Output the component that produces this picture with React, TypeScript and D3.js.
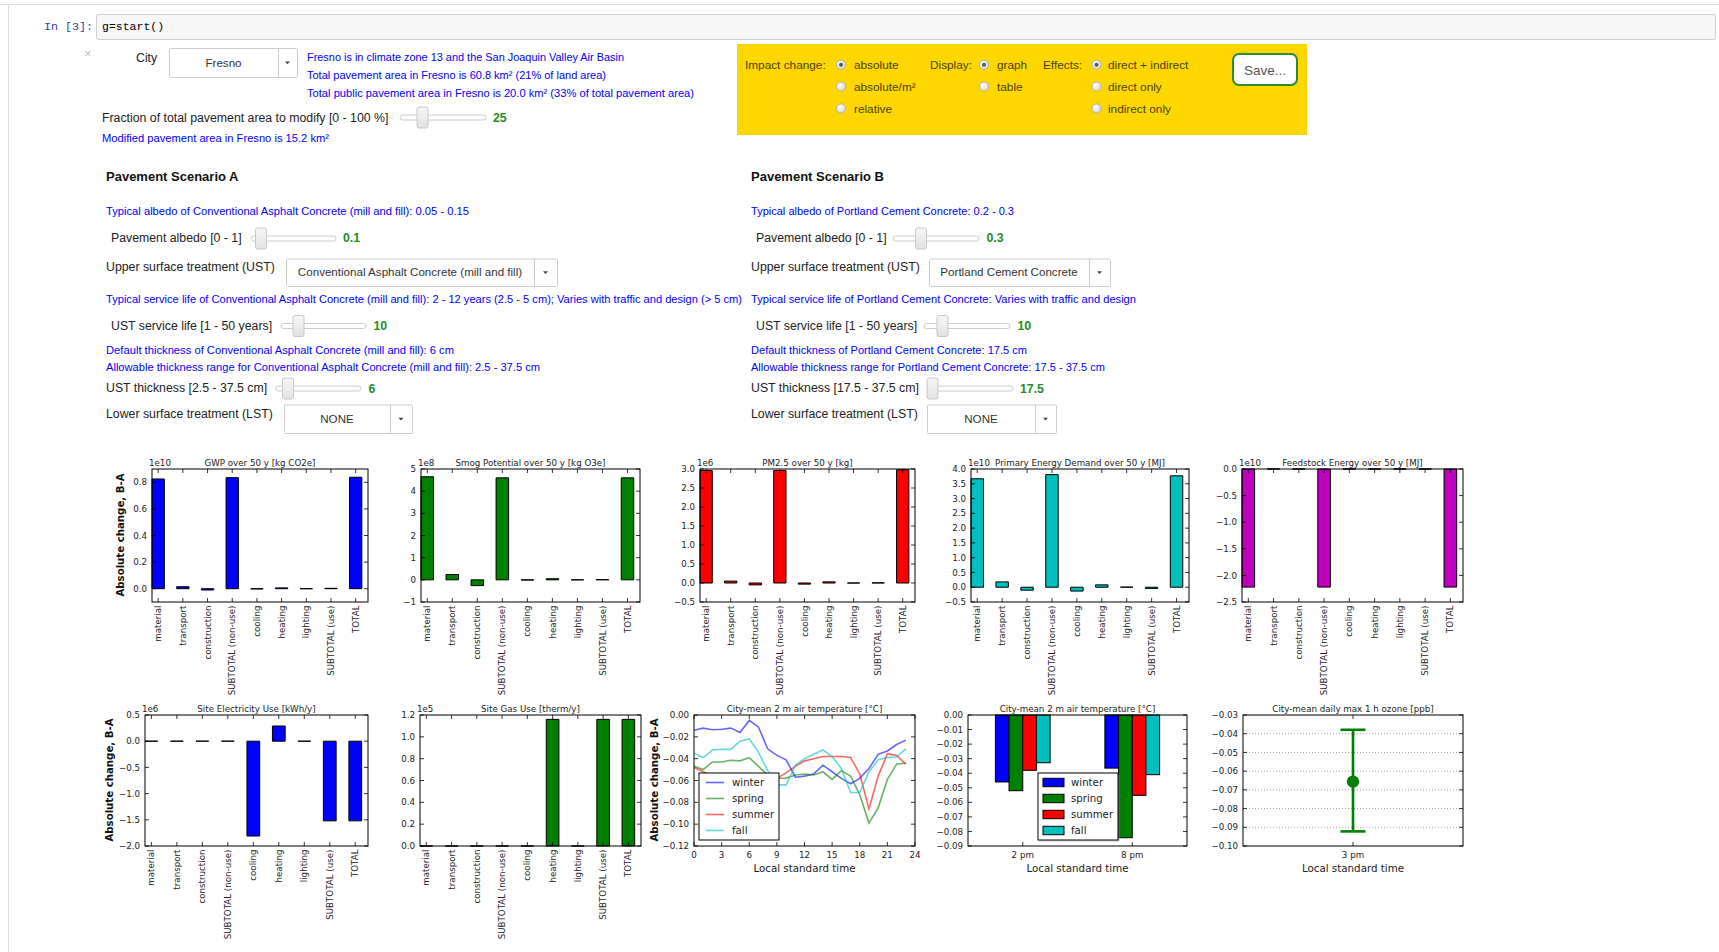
import React from 'react';
import * as d3 from 'd3';

// ---------------- data ----------------
const categories = ['material', 'transport', 'construction', 'SUBTOTAL (non-use)', 'cooling', 'heating', 'lighting', 'SUBTOTAL (use)', 'TOTAL'];

const gwpValues = [0.825, 0.015, -0.01, 0.835, -0.002, 0.006, 0.0, 0.003, 0.838];
const smogValues = [4.65, 0.24, -0.26, 4.6, -0.01, 0.05, 0.0, 0.01, 4.6];
const pm25Values = [2.96, 0.05, -0.05, 2.96, -0.03, 0.03, 0.0, 0.005, 2.98];
const pedValues = [3.67, 0.18, -0.1, 3.81, -0.13, 0.08, 0.005, -0.04, 3.77];
const feedstockValues = [-2.22, 0, 0, -2.22, 0, 0, 0, 0, -2.22];
const elecValues = [0, 0, 0, 0, -1.81, 0.29, 0, -1.52, -1.52];
const gasValues = [0, 0, 0, 0, 0, 1.16, 0, 1.16, 1.16];

const gwpTicks = [0, 0.2, 0.4, 0.6, 0.8];
const smogTicks = [-1, 0, 1, 2, 3, 4, 5];
const pm25Ticks = [-0.5, 0, 0.5, 1, 1.5, 2, 2.5, 3];
const pedTicks = [-0.5, 0, 0.5, 1, 1.5, 2, 2.5, 3, 3.5, 4];
const feedTicks = [-2.5, -2, -1.5, -1, -0.5, 0];
const elecTicks = [-2, -1.5, -1, -0.5, 0, 0.5];
const gasTicks = [0, 0.2, 0.4, 0.6, 0.8, 1.0, 1.2];

const hours = [0, 1, 2, 3, 4, 5, 6, 7, 8, 9, 10, 11, 12, 13, 14, 15, 16, 17, 18, 19, 20, 21, 22, 23];
const winterTemp = [-0.014, -0.012, -0.0135, -0.013, -0.012, -0.016, -0.005, -0.011, -0.031, -0.037, -0.041, -0.057, -0.056, -0.054, -0.046, -0.052, -0.058, -0.063, -0.058, -0.049, -0.036, -0.033, -0.027, -0.023];
const springTemp = [-0.047, -0.050, -0.043, -0.043, -0.0415, -0.042, -0.039, -0.047, -0.055, -0.058, -0.058, -0.055, -0.054, -0.055, -0.052, -0.059, -0.051, -0.056, -0.073, -0.099, -0.085, -0.059, -0.045, -0.044];
const summerTemp = [-0.048, -0.052, -0.056, -0.058, -0.059, -0.060, -0.061, -0.062, -0.062, -0.058, -0.053, -0.047, -0.042, -0.040, -0.038, -0.038, -0.038, -0.039, -0.054, -0.086, -0.056, -0.0355, -0.037, -0.045];
const fallTemp = [-0.035, -0.039, -0.032, -0.0315, -0.0315, -0.024, -0.022, -0.034, -0.051, -0.064, -0.064, -0.046, -0.040, -0.036, -0.032, -0.038, -0.049, -0.071, -0.071, -0.052, -0.041, -0.039, -0.0385, -0.031];
const hourTicks = [0, 3, 6, 9, 12, 15, 18, 21, 24];
const tempTicks = [-0.12, -0.1, -0.08, -0.06, -0.04, -0.02, 0];

const seasons = ['winter', 'spring', 'summer', 'fall'];
const peakTimes = ['2 pm', '8 pm'];
const winterPeak = [-0.046, -0.0365];
const springPeak = [-0.052, -0.0843];
const summerPeak = [-0.038, -0.0552];
const fallPeak = [-0.0328, -0.041];
const peakTicks = [-0.09, -0.08, -0.07, -0.06, -0.05, -0.04, -0.03, -0.02, -0.01, 0];

const ozoneTimes = ['3 pm'];
const ozoneMean = [-0.0656];
const ozoneLow = [-0.0922];
const ozoneHigh = [-0.0379];
const ozoneTicks = [-0.1, -0.09, -0.08, -0.07, -0.06, -0.05, -0.04, -0.03];

// ---------------- styles ----------------
const CF = "'DejaVu Sans', 'Bitstream Vera Sans', sans-serif";
const WF = "'Liberation Sans', Arial, Helvetica, sans-serif";
const MF = "'Liberation Mono', 'DejaVu Sans Mono', monospace";
const FS = 8.7;
const BLUE = '#0000ff';
const GREEN_VAL = '#2a8a2a';
const seasonColors = ['#0000ff', '#008000', '#ff0000', '#00bfbf'];

const f1 = d3.format('.1f');
const f0 = d3.format('d');
const f2 = d3.format('.2f');

// ---------------- chart helpers ----------------
type Box = { x0: number; x1: number; y0: number; y1: number };

function YTicks({ b, scale, ticks, fmt }: { b: Box; scale: any; ticks: number[]; fmt: (v: number) => string }) {
  return (
    <g>
      {ticks.map((t, i) => {
        const y = scale(t);
        return (
          <g key={i}>
            <line x1={b.x0} x2={b.x0 + 4} y1={y} y2={y} stroke="#000" strokeWidth={0.8} />
            <line x1={b.x1 - 4} x2={b.x1} y1={y} y2={y} stroke="#000" strokeWidth={0.8} />
            <text x={b.x0 - 5} y={y + 3.1} textAnchor="end" fontFamily={CF} fontSize={FS} fill="#222">{fmt(t)}</text>
          </g>
        );
      })}
    </g>
  );
}

function XTickMarks({ b, xs }: { b: Box; xs: number[] }) {
  return (
    <g>
      {xs.map((x, i) => (
        <g key={i}>
          <line x1={x} x2={x} y1={b.y1} y2={b.y1 - 4} stroke="#000" strokeWidth={0.8} />
          <line x1={x} x2={x} y1={b.y0} y2={b.y0 + 4} stroke="#000" strokeWidth={0.8} />
        </g>
      ))}
    </g>
  );
}

function Frame({ b }: { b: Box }) {
  return <rect x={b.x0} y={b.y0} width={b.x1 - b.x0} height={b.y1 - b.y0} fill="none" stroke="#000" strokeWidth={1} />;
}

function Title({ b, title, exp }: { b: Box; title: string; exp?: string }) {
  return (
    <g>
      <text x={(b.x0 + b.x1) / 2} y={b.y0 - 3.5} textAnchor="middle" fontFamily={CF} fontSize={FS} fill="#222">{title}</text>
      {exp && <text x={b.x0 - 3} y={b.y0 - 3} fontFamily={CF} fontSize={FS} fill="#222">{exp}</text>}
    </g>
  );
}

function YLabel({ x, y }: { x: number; y: number }) {
  return (
    <text transform={`translate(${x},${y}) rotate(-90)`} textAnchor="middle" fontFamily={CF} fontSize={10.2} fontWeight="bold" fill="#111">
      Absolute change, B-A
    </text>
  );
}

function BarPanel({ b, title, exp, values, color, domain, ticks, fmt }: { b: Box; title: string; exp: string; values: number[]; color: string; domain: [number, number]; ticks: number[]; fmt: (v: number) => string }) {
  // pandas-style bar positions: bar i spans [i-0.25, i+0.25], xlim [-0.25, n-0.5]
  const n = categories.length;
  const xs = d3.scaleLinear().domain([-0.25, n - 0.5]).range([b.x0, b.x1]);
  const ys = d3.scaleLinear().domain(domain).range([b.y1, b.y0]);
  return (
    <g>
      {values.map((v, i) => {
        const xl = xs(i - 0.25);
        const xr = xs(i + 0.25);
        const yt = ys(Math.max(v, 0));
        const yb = ys(Math.min(v, 0));
        const d = `M${xl},${yb}L${xl},${yt}L${xr},${yt}L${xr},${yb}Z`;
        return <path key={i} d={d} fill={color} stroke="#000" strokeWidth={1} />;
      })}
      <Frame b={b} />
      <YTicks b={b} scale={ys} ticks={ticks} fmt={fmt} />
      <XTickMarks b={b} xs={categories.map((_, i) => xs(i))} />
      {categories.map((c, i) => (
        <text key={i} transform={`translate(${xs(i) + 3.1},${b.y1 + 3.5}) rotate(-90)`} textAnchor="end" fontFamily={CF} fontSize={FS} fill="#222">{c}</text>
      ))}
      <Title b={b} title={title} exp={exp} />
    </g>
  );
}

function TempLinePanel({ b }: { b: Box }) {
  const xs = d3.scaleLinear().domain([0, 24]).range([b.x0, b.x1]);
  const ys = d3.scaleLinear().domain([-0.12, 0]).range([b.y1, b.y0]);
  const series = [winterTemp, springTemp, summerTemp, fallTemp];
  const line = d3.line<number>().x((_, i) => xs(hours[i])).y((v) => ys(v));
  const lg = { x0: 699, y0: 773, x1: 779, y1: 840 };
  const rowY = [782.5, 798.5, 814.5, 830.5];
  return (
    <g>
      <defs>
        <clipPath id="clipTemp"><rect x={b.x0} y={b.y0} width={b.x1 - b.x0} height={b.y1 - b.y0} /></clipPath>
      </defs>
      <g clipPath="url(#clipTemp)">
        {series.map((s, k) => (
          <path key={k} d={line(s) as string} fill="none" stroke={seasonColors[k]} strokeOpacity={0.6} strokeWidth={1.6} />
        ))}
      </g>
      <Frame b={b} />
      <YTicks b={b} scale={ys} ticks={tempTicks} fmt={f2} />
      <XTickMarks b={b} xs={hourTicks.map((h) => xs(h))} />
      {hourTicks.map((h, i) => (
        <text key={i} x={xs(h)} y={b.y1 + 11.5} textAnchor="middle" fontFamily={CF} fontSize={FS} fill="#222">{f0(h)}</text>
      ))}
      <text x={(b.x0 + b.x1) / 2} y={b.y1 + 26} textAnchor="middle" fontFamily={CF} fontSize={10.3} fill="#222">Local standard time</text>
      <rect x={lg.x0} y={lg.y0} width={lg.x1 - lg.x0} height={lg.y1 - lg.y0} fill="#fff" stroke="#000" strokeWidth={1} />
      {seasons.map((s, k) => (
        <g key={k}>
          <line x1={706} x2={724} y1={rowY[k]} y2={rowY[k]} stroke={seasonColors[k]} strokeOpacity={0.6} strokeWidth={1.6} />
          <text x={732} y={rowY[k] + 3.6} fontFamily={CF} fontSize={10.2} fill="#222">{s}</text>
        </g>
      ))}
      <Title b={b} title="City-mean 2 m air temperature [°C]" />
    </g>
  );
}

function TempBarPanel({ b }: { b: Box }) {
  const xs = d3.scaleLinear().domain([-0.5, 1.5]).range([b.x0, b.x1]);
  const ys = d3.scaleLinear().domain([-0.09, 0]).range([b.y1, b.y0]);
  const series = [winterPeak, springPeak, summerPeak, fallPeak];
  const bwU = 0.125;
  const lg = { x0: 1038, y0: 773, x1: 1118, y1: 840 };
  const rowY = [782.5, 798.5, 814.5, 830.5];
  return (
    <g>
      {series.map((s, k) =>
        s.map((v, g) => {
          const xl = xs(g - 0.25 + k * bwU);
          const xr = xs(g - 0.25 + (k + 1) * bwU);
          return <rect key={`${k}-${g}`} x={xl} y={ys(0)} width={xr - xl} height={ys(v) - ys(0)} fill={seasonColors[k]} stroke="#000" strokeWidth={1} />;
        })
      )}
      <Frame b={b} />
      <YTicks b={b} scale={ys} ticks={peakTicks} fmt={f2} />
      <XTickMarks b={b} xs={peakTimes.map((_, i) => xs(i))} />
      {peakTimes.map((t, i) => (
        <text key={i} x={xs(i)} y={b.y1 + 11.5} textAnchor="middle" fontFamily={CF} fontSize={FS} fill="#222">{t}</text>
      ))}
      <text x={(b.x0 + b.x1) / 2} y={b.y1 + 26} textAnchor="middle" fontFamily={CF} fontSize={10.3} fill="#222">Local standard time</text>
      <rect x={lg.x0 + 1.5} y={lg.y0 + 1.5} width={lg.x1 - lg.x0} height={lg.y1 - lg.y0} fill="#999" opacity={0.5} />
      <rect x={lg.x0} y={lg.y0} width={lg.x1 - lg.x0} height={lg.y1 - lg.y0} fill="#fff" stroke="#000" strokeWidth={1} />
      {seasons.map((s, k) => (
        <g key={k}>
          <rect x={1043} y={rowY[k] - 4.2} width={21} height={8.4} fill={seasonColors[k]} stroke="#000" strokeWidth={1} />
          <text x={1071} y={rowY[k] + 3.6} fontFamily={CF} fontSize={10.2} fill="#222">{s}</text>
        </g>
      ))}
      <Title b={b} title="City-mean 2 m air temperature [°C]" />
    </g>
  );
}

function OzonePanel({ b }: { b: Box }) {
  const xs = d3.scalePoint<string>().domain(ozoneTimes).range([b.x0, b.x1]).padding(0.5);
  const ys = d3.scaleLinear().domain([-0.1, -0.03]).range([b.y1, b.y0]);
  const cx = xs(ozoneTimes[0]) as number;
  const cap = 12.5;
  return (
    <g>
      {ozoneTicks.slice(1, -1).map((t, i) => (
        <line key={i} x1={b.x0} x2={b.x1} y1={ys(t)} y2={ys(t)} stroke="#888" strokeWidth={0.8} strokeDasharray="1,2" />
      ))}
      <line x1={cx} x2={cx} y1={ys(ozoneLow[0])} y2={ys(ozoneHigh[0])} stroke="#008000" strokeWidth={2.6} />
      <line x1={cx - cap} x2={cx + cap} y1={ys(ozoneLow[0])} y2={ys(ozoneLow[0])} stroke="#008000" strokeWidth={2.6} />
      <line x1={cx - cap} x2={cx + cap} y1={ys(ozoneHigh[0])} y2={ys(ozoneHigh[0])} stroke="#008000" strokeWidth={2.6} />
      <circle cx={cx} cy={ys(ozoneMean[0])} r={6.2} fill="#008000" />
      <Frame b={b} />
      <YTicks b={b} scale={ys} ticks={ozoneTicks} fmt={f2} />
      <XTickMarks b={b} xs={[cx]} />
      <text x={cx} y={b.y1 + 11.5} textAnchor="middle" fontFamily={CF} fontSize={FS} fill="#222">{ozoneTimes[0]}</text>
      <text x={(b.x0 + b.x1) / 2} y={b.y1 + 26} textAnchor="middle" fontFamily={CF} fontSize={10.3} fill="#222">Local standard time</text>
      <Title b={b} title="City-mean daily max 1 h ozone [ppb]" />
    </g>
  );
}

// ---------------- widget helpers ----------------
function WText({ x, y, children, size = 12.3, fill = '#222', weight = 'normal', anchor = 'start', len }: any) {
  return (
    <text x={x} y={y} fontFamily={WF} fontSize={size} fill={fill} fontWeight={weight} textAnchor={anchor}
      textLength={len} lengthAdjust={len ? 'spacingAndGlyphs' : undefined}>
      {children}
    </text>
  );
}

function Info({ x, y, len, children }: any) {
  return <WText x={x} y={y} size={11} fill={BLUE} len={len}>{children}</WText>;
}

function Dropdown({ x0, x1, y0, y1, sep, label }: { x0: number; x1: number; y0: number; y1: number; sep: number; label: string }) {
  const cy = (y0 + y1) / 2;
  const ax = (sep + x1) / 2;
  return (
    <g>
      <rect x={x0 + 0.5} y={y0 + 0.5} width={x1 - x0} height={y1 - y0} fill="#fff" stroke="#ccc" strokeWidth={1} rx={1} />
      <line x1={sep + 0.5} x2={sep + 0.5} y1={y0} y2={y1} stroke="#ccc" strokeWidth={1} />
      <path d={`M${ax - 2.5},${cy - 1}L${ax + 2.5},${cy - 1}L${ax},${cy + 1.8}Z`} fill="#444" />
      <text x={(x0 + sep) / 2} y={cy + 4} textAnchor="middle" fontFamily={WF} fontSize={11.6} fill="#333">{label}</text>
    </g>
  );
}

function Slider({ x0, x1, cy, hx }: { x0: number; x1: number; cy: number; hx: number }) {
  return (
    <g>
      <rect x={x0} y={cy - 2.5} width={x1 - x0} height={5} rx={2.5} fill="#fff" stroke="#ccc" strokeWidth={1} />
      <rect x={hx} y={cy - 10.5} width={11} height={21} rx={2} fill="url(#handleGrad)" stroke="#c8c8c8" strokeWidth={1} />
    </g>
  );
}

function Radio({ cx, cy, on }: { cx: number; cy: number; on?: boolean }) {
  return (
    <g>
      <circle cx={cx} cy={cy} r={4.6} fill="url(#radioGrad)" stroke="#a8a8a8" strokeWidth={0.8} />
      {on && <circle cx={cx} cy={cy} r={2} fill="#555" />}
    </g>
  );
}

function Scenario({ dx, name, albedoInfo, albedo, albedoHx, ust, ustBox, lifeInfo, lifeHx, thickDefault, thickRange, thickLabel, thickHx, thickVal, thickSlider, albedoSlider, lifeSlider, lstBox, valX, infoLens }: any) {
  return (
    <g>
      <WText x={dx} y={181} size={13} weight="bold" fill="#111">{name}</WText>
      <Info x={dx} y={215.4} len={infoLens[0]}>{albedoInfo}</Info>
      <WText x={dx + 5} y={242.2}>Pavement albedo [0 - 1]</WText>
      <Slider x0={albedoSlider[0]} x1={albedoSlider[1]} cy={238.5} hx={albedoHx} />
      <WText x={valX[0]} y={242.4} fill={GREEN_VAL} weight="bold">{albedo}</WText>
      <WText x={dx} y={270.7}>Upper surface treatment (UST)</WText>
      <Dropdown x0={ustBox[0]} x1={ustBox[1]} y0={258.5} y1={286} sep={ustBox[2]} label={ust} />
      <Info x={dx} y={303.1} len={infoLens[1]}>{lifeInfo}</Info>
      <WText x={dx + 5} y={329.9}>UST service life [1 - 50 years]</WText>
      <Slider x0={lifeSlider[0]} x1={lifeSlider[1]} cy={326} hx={lifeHx} />
      <WText x={valX[1]} y={330.1} fill={GREEN_VAL} weight="bold">10</WText>
      <Info x={dx} y={353.5} len={infoLens[2]}>{thickDefault}</Info>
      <Info x={dx} y={371.1} len={infoLens[3]}>{thickRange}</Info>
      <WText x={dx} y={392.3}>{thickLabel}</WText>
      <Slider x0={thickSlider[0]} x1={thickSlider[1]} cy={388.5} hx={thickHx} />
      <WText x={valX[2]} y={392.5} fill={GREEN_VAL} weight="bold">{thickVal}</WText>
      <WText x={dx} y={417.6}>Lower surface treatment (LST)</WText>
      <Dropdown x0={lstBox[0]} x1={lstBox[1]} y0={404.5} y1={433} sep={lstBox[2]} label="NONE" />
    </g>
  );
}

export default function App() {
  const row1y = { y0: 469, y1: 602 };
  const row2y = { y0: 715, y1: 846 };
  return (
    <svg width={1719} height={952} viewBox="0 0 1719 952" style={{ position: 'fixed', left: 0, top: 0, background: '#fff' }}>
      <defs>
        <radialGradient id="radioGrad" cx="40%" cy="35%" r="70%">
          <stop offset="0%" stopColor="#ffffff" />
          <stop offset="100%" stopColor="#d3d3d3" />
        </radialGradient>
        <linearGradient id="handleGrad" x1="0" y1="0" x2="0" y2="1">
          <stop offset="0%" stopColor="#f6f6f6" />
          <stop offset="100%" stopColor="#e2e2e2" />
        </linearGradient>
      </defs>
      <rect x={0} y={0} width={1719} height={952} fill="#fff" />
      {/* notebook chrome */}
      <line x1={0} x2={1719} y1={4.5} y2={4.5} stroke="#ddd" strokeWidth={1} />
      <line x1={8.5} x2={8.5} y1={5} y2={952} stroke="#ddd" strokeWidth={1} />
      <text x={44} y={30} fontFamily={MF} fontSize={11.7} fill="#303F9F">In [3]:</text>
      <rect x={96.5} y={14.5} width={1619} height={25} fill="#f7f7f7" stroke="#cfcfcf" strokeWidth={1} rx={2} />
      <text x={102} y={30} fontFamily={MF} fontSize={11.5} fill="#000">g=start()</text>

      {/* top widgets */}
      <WText x={84} y={57.5} size={13} fill="#bbb">×</WText>
      <WText x={136} y={61.5}>City</WText>
      <Dropdown x0={169} x1={297} y0={48} y1={77} sep={278} label="Fresno" />
      <Info x={307} y={61} len={317}>Fresno is in climate zone 13 and the San Joaquin Valley Air Basin</Info>
      <Info x={307} y={79} len={299}>Total pavement area in Fresno is 60.8 km² (21% of land area)</Info>
      <Info x={307} y={96.5} len={387}>Total public pavement area in Fresno is 20.0 km² (33% of total pavement area)</Info>
      <WText x={102} y={121.6}>Fraction of total pavement area to modify [0 - 100 %]</WText>
      <Slider x0={400} x1={486} cy={117.5} hx={417} />
      <WText x={493} y={121.8} fill={GREEN_VAL} weight="bold">25</WText>
      <Info x={102} y={142} len={227}>Modified pavement area in Fresno is 15.2 km²</Info>

      {/* yellow options box */}
      <rect x={737} y={44} width={570} height={91} fill="#FFD700" />
      <WText x={745} y={69} size={11.8} fill="#4a3d00">Impact change:</WText>
      <Radio cx={841} cy={64.8} on />
      <Radio cx={841} cy={86.6} />
      <Radio cx={841} cy={108.5} />
      <WText x={854} y={69} size={11.8} fill="#4a3d00">absolute</WText>
      <WText x={854} y={90.8} size={11.8} fill="#4a3d00">absolute/m²</WText>
      <WText x={854} y={112.7} size={11.8} fill="#4a3d00">relative</WText>
      <WText x={930} y={69} size={11.8} fill="#4a3d00">Display:</WText>
      <Radio cx={984} cy={64.8} on />
      <Radio cx={984} cy={86.6} />
      <WText x={997} y={69} size={11.8} fill="#4a3d00">graph</WText>
      <WText x={997} y={90.8} size={11.8} fill="#4a3d00">table</WText>
      <WText x={1043} y={69} size={11.8} fill="#4a3d00">Effects:</WText>
      <Radio cx={1096.5} cy={64.8} on />
      <Radio cx={1096.5} cy={86.6} />
      <Radio cx={1096.5} cy={108.5} />
      <WText x={1108} y={69} size={11.8} fill="#4a3d00">direct + indirect</WText>
      <WText x={1108} y={90.8} size={11.8} fill="#4a3d00">direct only</WText>
      <WText x={1108} y={112.7} size={11.8} fill="#4a3d00">indirect only</WText>
      <rect x={1233} y={54} width={64} height={31} rx={6} fill="#fff" stroke="#2e8b2e" strokeWidth={2} />
      <WText x={1265} y={74.5} size={13.5} fill="#555" anchor="middle">Save...</WText>

      {/* scenarios */}
      <Scenario
        dx={106}
        name="Pavement Scenario A"
        albedoInfo="Typical albedo of Conventional Asphalt Concrete (mill and fill): 0.05 - 0.15"
        albedo="0.1"
        albedoSlider={[251, 336]}
        albedoHx={255.5}
        ust="Conventional Asphalt Concrete (mill and fill)"
        ustBox={[286, 557, 534]}
        lifeInfo="Typical service life of Conventional Asphalt Concrete (mill and fill): 2 - 12 years (2.5 - 5 cm); Varies with traffic and design (> 5 cm)"
        lifeSlider={[281, 366]}
        lifeHx={293}
        thickDefault="Default thickness of Conventional Asphalt Concrete (mill and fill): 6 cm"
        thickRange="Allowable thickness range for Conventional Asphalt Concrete (mill and fill): 2.5 - 37.5 cm"
        thickLabel="UST thickness [2.5 - 37.5 cm]"
        thickSlider={[276, 361]}
        thickHx={282.5}
        thickVal="6"
        lstBox={[284, 412, 390]}
        valX={[343, 373.5, 368.5]}
        infoLens={[363, 636, 348, 434]}
      />
      <Scenario
        dx={751}
        name="Pavement Scenario B"
        albedoInfo="Typical albedo of Portland Cement Concrete: 0.2 - 0.3"
        albedo="0.3"
        albedoSlider={[893, 979]}
        albedoHx={915.5}
        ust="Portland Cement Concrete"
        ustBox={[929, 1110, 1089]}
        lifeInfo="Typical service life of Portland Cement Concrete: Varies with traffic and design"
        lifeSlider={[924, 1010]}
        lifeHx={937}
        thickDefault="Default thickness of Portland Cement Concrete: 17.5 cm"
        thickRange="Allowable thickness range for Portland Cement Concrete: 17.5 - 37.5 cm"
        thickLabel="UST thickness [17.5 - 37.5 cm]"
        thickSlider={[927, 1013]}
        thickHx={927}
        thickVal="17.5"
        lstBox={[927, 1056, 1035]}
        valX={[986.5, 1017.5, 1020]}
        infoLens={[263, 385, 276, 354]}
      />

      {/* row 1 charts */}
      <BarPanel b={{ x0: 152, x1: 368, ...row1y }} title="GWP over 50 y [kg CO2e]" exp="1e10" values={gwpValues} color="#0000ff" domain={[-0.1, 0.9]} ticks={gwpTicks} fmt={f1} />
      <BarPanel b={{ x0: 421, x1: 640, ...row1y }} title="Smog Potential over 50 y [kg O3e]" exp="1e8" values={smogValues} color="#008000" domain={[-1, 5]} ticks={smogTicks} fmt={f0} />
      <BarPanel b={{ x0: 700, x1: 915, ...row1y }} title="PM2.5 over 50 y [kg]" exp="1e6" values={pm25Values} color="#ff0000" domain={[-0.5, 3]} ticks={pm25Ticks} fmt={f1} />
      <BarPanel b={{ x0: 971, x1: 1189, ...row1y }} title="Primary Energy Demand over 50 y [MJ]" exp="1e10" values={pedValues} color="#00bfbf" domain={[-0.5, 4]} ticks={pedTicks} fmt={f1} />
      <BarPanel b={{ x0: 1242, x1: 1463, ...row1y }} title="Feedstock Energy over 50 y [MJ]" exp="1e10" values={feedstockValues} color="#bf00bf" domain={[-2.5, 0]} ticks={feedTicks} fmt={f1} />
      <YLabel x={124} y={535} />

      {/* row 2 charts */}
      <BarPanel b={{ x0: 145, x1: 368, ...row2y }} title="Site Electricity Use [kWh/y]" exp="1e6" values={elecValues} color="#0000ff" domain={[-2, 0.5]} ticks={elecTicks} fmt={f1} />
      <BarPanel b={{ x0: 420, x1: 641, ...row2y }} title="Site Gas Use [therm/y]" exp="1e5" values={gasValues} color="#008000" domain={[0, 1.2]} ticks={gasTicks} fmt={f1} />
      <YLabel x={113} y={780} />
      <TempLinePanel b={{ x0: 694, x1: 915, ...row2y }} />
      <YLabel x={658} y={780} />
      <TempBarPanel b={{ x0: 968, x1: 1187, ...row2y }} />
      <OzonePanel b={{ x0: 1243, x1: 1463, ...row2y }} />
    </svg>
  );
}
